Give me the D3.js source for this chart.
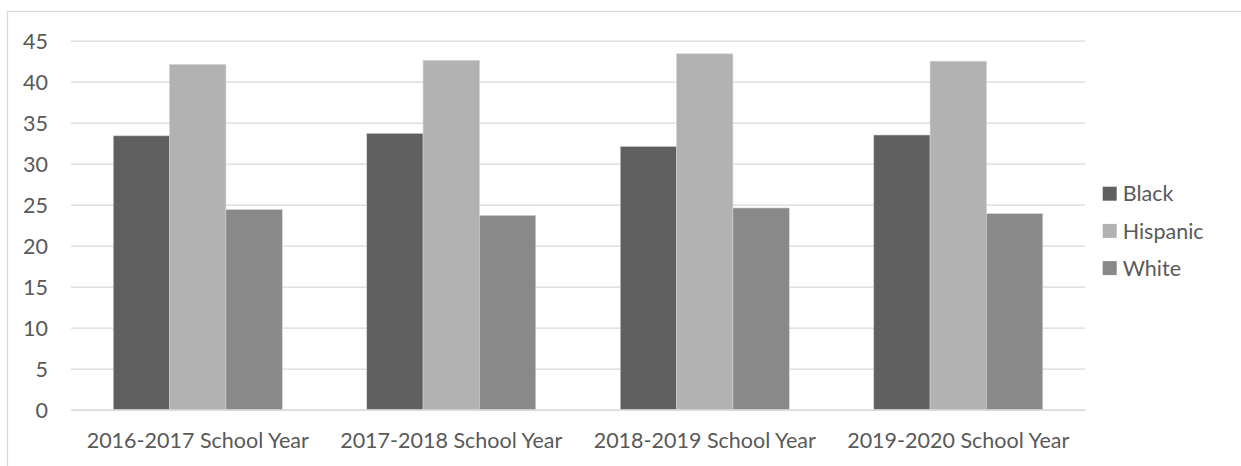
<!DOCTYPE html>
<html>
<head>
  <meta charset="UTF-8">
  <title>School Year Chart</title>
  <script src="https://d3js.org/d3.v7.min.js"></script>
  <style>
    body { margin: 0; background: #fff; }
    .chart text { font-family: Lato, "Open Sans", sans-serif; fill: #595959; }
  </style>
</head>
<body>

<div class="chart"></div>

<script>
  var categories = ['2016-2017 School Year', '2017-2018 School Year', '2018-2019 School Year', '2019-2020 School Year'];
  var seriesNames = ['Black', 'Hispanic', 'White'];
  var black    = [33.4, 33.7, 32.1, 33.5];
  var hispanic = [42.1, 42.6, 43.4, 42.5];
  var white    = [24.4, 23.7, 24.6, 23.9];
  var yTicks = [0, 5, 10, 15, 20, 25, 30, 35, 40, 45];
  var colors = ['#606060', '#b2b2b2', '#898989'];

  var seriesValues = [black, hispanic, white];

  var W = 1241, H = 466;
  var plot = { left: 71, right: 1085, top: 40.7, bottom: 409.7 };

  var svg = d3.select('.chart')
    .append('svg')
      .attr('width', W)
      .attr('height', H);

  // outer chart frame (cut off at right / bottom)
  svg.append('rect')
    .attr('x', 7.5).attr('y', 11.5)
    .attr('width', 1400).attr('height', 600)
    .attr('fill', 'none')
    .attr('stroke', '#d9d9d9')
    .attr('stroke-width', 1.3);

  var y = d3.scaleLinear()
    .domain([0, 45])
    .range([plot.bottom, plot.top]);

  var x = d3.scaleBand()
    .domain(categories)
    .range([plot.left, plot.right]);

  var gap = x.bandwidth() * (84.5 / 253.5);
  var xs = d3.scaleBand()
    .domain(seriesNames)
    .range([gap / 2, x.bandwidth() - gap / 2]);

  // gridlines
  var yAxis = d3.axisLeft(y)
    .tickValues(yTicks)
    .tickSize(-(plot.right - plot.left))
    .tickPadding(23);
  var gy = svg.append('g')
    .attr('transform', 'translate(' + plot.left + ',0)')
    .call(yAxis);
  gy.select('.domain').remove();
  gy.selectAll('line').attr('stroke', '#d9d9d9').attr('stroke-width', 1.3);
  gy.selectAll('text').style('font-size', '21.5px').attr('dy', '0.36em');

  // bars
  var rows = [];
  categories.forEach(function(c, i) {
    seriesNames.forEach(function(s, j) {
      rows.push({ cat: c, series: s, value: seriesValues[j][i], color: colors[j] });
    });
  });

  svg.selectAll('rect.bar')
    .data(rows)
    .enter()
    .append('rect')
      .attr('class', 'bar')
      .attr('x', d => x(d.cat) + xs(d.series))
      .attr('y', d => y(d.value))
      .attr('width', xs.bandwidth())
      .attr('height', d => y(0) - y(d.value))
      .attr('fill', d => d.color)
      .attr('stroke', '#d0d0d0')
      .attr('stroke-width', 0.6);

  // x axis
  var xAxis = d3.axisBottom(x).tickSize(0).tickPadding(23);
  var gx = svg.append('g')
    .attr('transform', 'translate(0,' + plot.bottom + ')')
    .call(xAxis);
  gx.select('.domain').attr('stroke', '#d9d9d9').attr('stroke-width', 1.3);
  gx.selectAll('text').style('font-size', '21.5px').attr('dy', '0.71em');

  // legend
  var legend = svg.append('g')
    .attr('transform', 'translate(1102.7,186.7)');
  var items = legend.selectAll('g')
    .data(seriesNames)
    .enter()
    .append('g')
      .attr('transform', (d, i) => 'translate(0,' + (i * 37.2) + ')');
  items.append('rect')
    .attr('width', 14).attr('height', 14)
    .attr('fill', (d, i) => colors[i]);
  items.append('text')
    .attr('x', 20).attr('y', 7)
    .attr('dy', '0.36em')
    .style('font-size', '21.5px')
    .text(d => d);
</script>

</body>
</html>
